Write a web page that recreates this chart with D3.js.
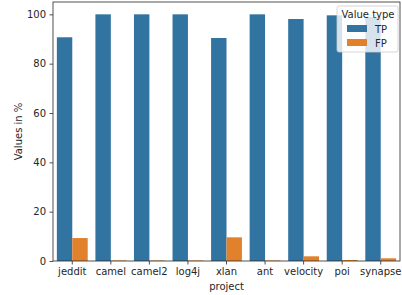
<!DOCTYPE html>
<html>
<head>
<meta charset="utf-8">
<script src="https://cdn.jsdelivr.net/npm/d3@7"></script>
<style>
	body { margin: 0; background: #fff; }
	text { font-family: "DejaVu Sans", sans-serif; fill: #262626; }
</style>
</head>
<body>
<div id="chartDiv"></div>
<script>
// data
const projects = ['jeddit', 'camel', 'camel2', 'log4j', 'xlan', 'ant', 'velocity', 'poi', 'synapse'];
const tpValues = [90.7, 100, 100, 100, 90.4, 100, 98.1, 99.6, 98.9];
const fpValues = [9.3, 0.2, 0.2, 0.2, 9.6, 0.2, 1.9, 0.4, 1.1];
const valueTypes = ['TP', 'FP'];
const yTicks = [0, 20, 40, 60, 80, 100];

const colors = ['#3274a1', '#e1812c'];
const W = 402, H = 295;
const margin = { left: 53, right: 2, top: 2, bottom: 34 };

const svg = d3.select('#chartDiv').append('svg')
	.attr('width', W)
	.attr('height', H);

const innerW = W - margin.left - margin.right;
const innerH = H - margin.top - margin.bottom;

const g = svg.append('g')
	.attr('transform', `translate(${margin.left},${margin.top})`);

const x = d3.scaleBand().domain(projects).range([0, innerW]).paddingInner(0.2).paddingOuter(0.1);
const xSub = d3.scaleBand().domain(valueTypes).range([0, x.bandwidth()]);
const y = d3.scaleLinear().domain([0, 105]).range([innerH, 0]);

const rows = projects.map((p, i) => ({ project: p, vals: [tpValues[i], fpValues[i]] }));

// bars
const groups = g.selectAll('.grp')
	.data(rows)
	.enter()
	.append('g')
	.attr('transform', d => `translate(${x(d.project)},0)`);

groups.selectAll('rect')
	.data(d => d.vals.map((v, k) => ({ type: valueTypes[k], v, k })))
	.enter()
	.append('rect')
	.attr('x', d => xSub(d.type))
	.attr('width', xSub.bandwidth())
	.attr('y', d => y(d.v))
	.attr('height', d => innerH - y(d.v))
	.attr('fill', d => colors[d.k]);

// axes
const yAxis = g.append('g').call(d3.axisLeft(y).tickValues(yTicks).tickSize(3.5).tickPadding(3.5));
const xAxis = g.append('g')
	.attr('transform', `translate(0,${innerH})`)
	.call(d3.axisBottom(x).tickSize(3.5).tickPadding(3.5));

[xAxis, yAxis].forEach(a => {
	a.select('.domain').remove();
	a.selectAll('line').attr('stroke', '#262626').attr('stroke-width', 0.8);
	a.selectAll('text').attr('font-size', '10px').style('fill', '#262626');
});

// spines
g.append('rect')
	.attr('width', innerW)
	.attr('height', innerH)
	.attr('fill', 'none')
	.attr('stroke', '#262626')
	.attr('stroke-width', 0.8);

// axis labels
svg.append('text')
	.attr('x', margin.left + innerW / 2)
	.attr('y', H - 5)
	.attr('text-anchor', 'middle')
	.attr('font-size', '10px')
	.text('project');

svg.append('text')
	.attr('transform', `translate(22,${margin.top + innerH / 2}) rotate(-90)`)
	.attr('text-anchor', 'middle')
	.attr('font-size', '10px')
	.text('Values in %');

// legend
const leg = svg.append('g').attr('transform', 'translate(337,6)');
leg.append('rect')
	.attr('width', 61)
	.attr('height', 46)
	.attr('rx', 2)
	.attr('fill', 'rgba(255,255,255,0.8)')
	.attr('stroke', '#cccccc')
	.attr('stroke-width', 0.8);
leg.append('text')
	.attr('x', 31)
	.attr('y', 12)
	.attr('text-anchor', 'middle')
	.attr('font-size', '10px')
	.text('Value type');
valueTypes.forEach((t, i) => {
	leg.append('rect')
		.attr('x', 10)
		.attr('y', 19 + i * 14)
		.attr('width', 20)
		.attr('height', 7)
		.attr('fill', colors[i]);
	leg.append('text')
		.attr('x', 38)
		.attr('y', 26.5 + i * 14)
		.attr('font-size', '10px')
		.text(t);
});
</script>
</body>
</html>
